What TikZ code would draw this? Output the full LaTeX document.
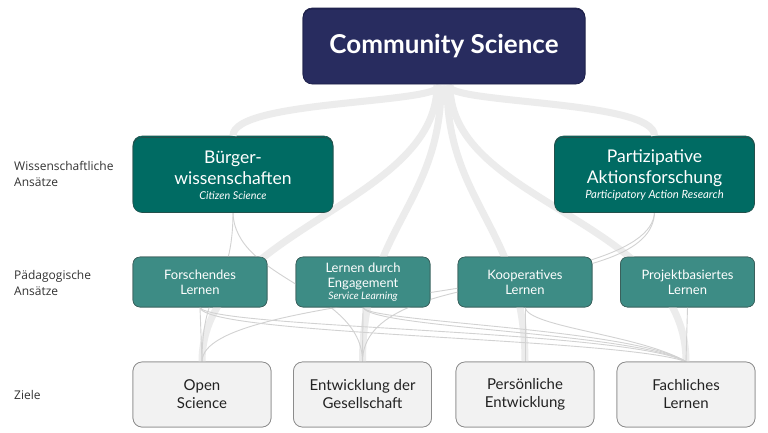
\documentclass[tikz,border=0pt]{standalone}
\usepackage{fontspec}
\setmainfont{Lato}
\newfontfamily\labelfont{Open Sans}
\definecolor{navy}{HTML}{282C5F}
\definecolor{navyborder}{HTML}{1B1E46}
\definecolor{tealA}{HTML}{006B63}
\definecolor{tealB}{HTML}{3D8C85}
\definecolor{tealborder}{HTML}{23504B}
\definecolor{tealBborder}{HTML}{3A5F5B}
\definecolor{goalfill}{HTML}{F2F2F2}
\definecolor{goalborder}{HTML}{8C8C8C}
\definecolor{goaltext}{HTML}{222222}
\definecolor{bandgray}{HTML}{ECECEC}
\definecolor{linegray}{HTML}{D2D2D2}
\definecolor{labeltext}{HTML}{333333}
\tikzset{
  topbox/.style={draw=navyborder, line width=0.6pt, fill=navy, rounded corners=9pt,
    minimum width=282pt, minimum height=75pt, inner sep=0pt, text=white,
    font=\fontsize{26}{30}\selectfont\bfseries},
  scibox/.style={draw=tealborder, line width=0.6pt, fill=tealA, rounded corners=9pt,
    minimum width=200pt, minimum height=75pt, inner sep=0pt, text=white, align=center,
    font=\fontsize{17.5}{21.5}\selectfont},
  pedbox/.style={draw=tealBborder, line width=0.6pt, fill=tealB,
    rounded corners=7pt, minimum width=134pt, minimum height=50pt, inner sep=0pt,
    text=white, align=center, font=\fontsize{13}{15}\selectfont},
  goalbox/.style={draw=goalborder, line width=0.7pt, fill=goalfill, rounded corners=9pt,
    minimum width=138pt, minimum height=65pt, inner sep=0pt, text=goaltext, align=center,
    font=\fontsize{15}{18}\selectfont},
  rowlabel/.style={anchor=west, align=left, text=labeltext, inner sep=0pt,
    font=\labelfont\fontsize{12}{16}\selectfont},
  band/.style={draw=bandgray, line width=7pt},
  flow/.style={draw=linegray, line width=0.9pt}
}
\begin{document}
\begin{tikzpicture}[x=1pt,y=-1pt]
\useasboundingbox (0,0) rectangle (768,432);
\fill[white] (0,0) rectangle (768,432);

% nodes (positions only, drawn later on top)
\path
  (444,45.5)   node[topbox] (cs) {}
  (233,173.5)  node[scibox] (bw) {}
  (654.5,173.5) node[scibox] (pa) {}
  (200,282)    node[pedbox] (fl) {}
  (363,282)    node[pedbox] (le) {}
  (525,282)    node[pedbox] (ko) {}
  (687.5,282)  node[pedbox] (pb) {}
  (202,394.5)  node[goalbox] (os) {}
  (362.5,394.5) node[goalbox] (eg) {}
  (525,394.5)  node[goalbox] (pe) {}
  (686,394.5)  node[goalbox] (fa) {};

% thick bands from Community Science
\draw[band] ([xshift=-4pt,yshift=-2pt]cs.south) .. controls +(0,19) and +(0,-36) .. (bw.north);
\draw[band] ([xshift=4pt,yshift=-2pt]cs.south) .. controls +(0,19) and +(0,-36) .. (pa.north);
\draw[band] ([xshift=-7pt,yshift=-2pt]cs.south) .. controls +(0,119) and +(0,-132) .. (os.north);
\draw[band] ([xshift=-3pt,yshift=-2pt]cs.south) .. controls +(0,119) and +(0,-132) .. (eg.north);
\draw[band] ([xshift=3pt,yshift=-2pt]cs.south) .. controls +(0,119) and +(0,-132) .. (pe.north);
\draw[band] ([xshift=6pt,yshift=-2pt]cs.south) .. controls +(0,119) and +(0,-142) .. (fa.north);

% thin flows from scientific approaches
\draw[flow] (bw.south) .. controls +(0,80) and +(0,-80) .. (os.north);
\draw[flow] (bw.south) .. controls +(0,69) and +(0,-72) .. (eg.north);
\draw[flow] (pa.south) .. controls +(0,89) and +(0,-72) .. (os.north);
\draw[flow] (pa.south) .. controls +(0,89) and +(0,-102) .. (eg.north);

% thin flows from pedagogical approaches
\draw[flow] (fl.south) -- (os.north);
\draw[flow] (fl.south) .. controls +(3,28) and +(-66,-24) .. (fa.north);
\draw[flow] (fl.south) .. controls +(8,21) and +(-61,-32) .. (fa.north);
\draw[flow] (le.south) -- (eg.north);
\draw[flow] (le.south) .. controls +(3,15) and +(-56,-34) .. (fa.north);
\draw[flow] (le.south) .. controls +(7,21) and +(-51,-29) .. (fa.north);
\draw[flow] (ko.south) -- (pe.north);
\draw[flow] (ko.south) .. controls +(3,20) and +(-46,-27) .. (fa.north);
\draw[flow] (pb.south) -- (fa.north);

% boxes on top
\node[topbox] at ([yshift=-1pt]cs) {Community Science};
\node[scibox] at ([yshift=-1.5pt]bw) {Bürger-\\wissenschaften\\[-7pt]{\fontsize{10.8}{12}\selectfont\itshape Citizen Science}};
\node[scibox] at ([yshift=-1.5pt]pa) {Partizipative\\Aktionsforschung\\[-7pt]{\fontsize{11.3}{12}\selectfont\itshape Participatory Action Research}};
\node[pedbox] at (fl) {Forschendes\\Lernen};
\node[pedbox] at (le) {Lernen durch\\Engagement\\[-3pt]{\fontsize{10.3}{11}\selectfont\itshape Service Learning}};
\node[pedbox] at (ko) {Kooperatives\\Lernen};
\node[pedbox] at (pb) {Projektbasiertes\\Lernen};
\node[goalbox] at (os) {Open\\Science};
\node[goalbox] at (eg) {Entwicklung der\\Gesellschaft};
\node[goalbox] at (pe) {Persönliche\\Entwicklung};
\node[goalbox] at (fa) {Fachliches\\Lernen};

% row labels
\node[rowlabel] (l1) at (14,173.5) {Wissenschaftliche\\Ansätze};
\node[rowlabel] (l2) at (14,282.5) {Pädagogische\\Ansätze};
\node[rowlabel] (l3) at (14,394.5) {Ziele};
\end{tikzpicture}
\end{document}
